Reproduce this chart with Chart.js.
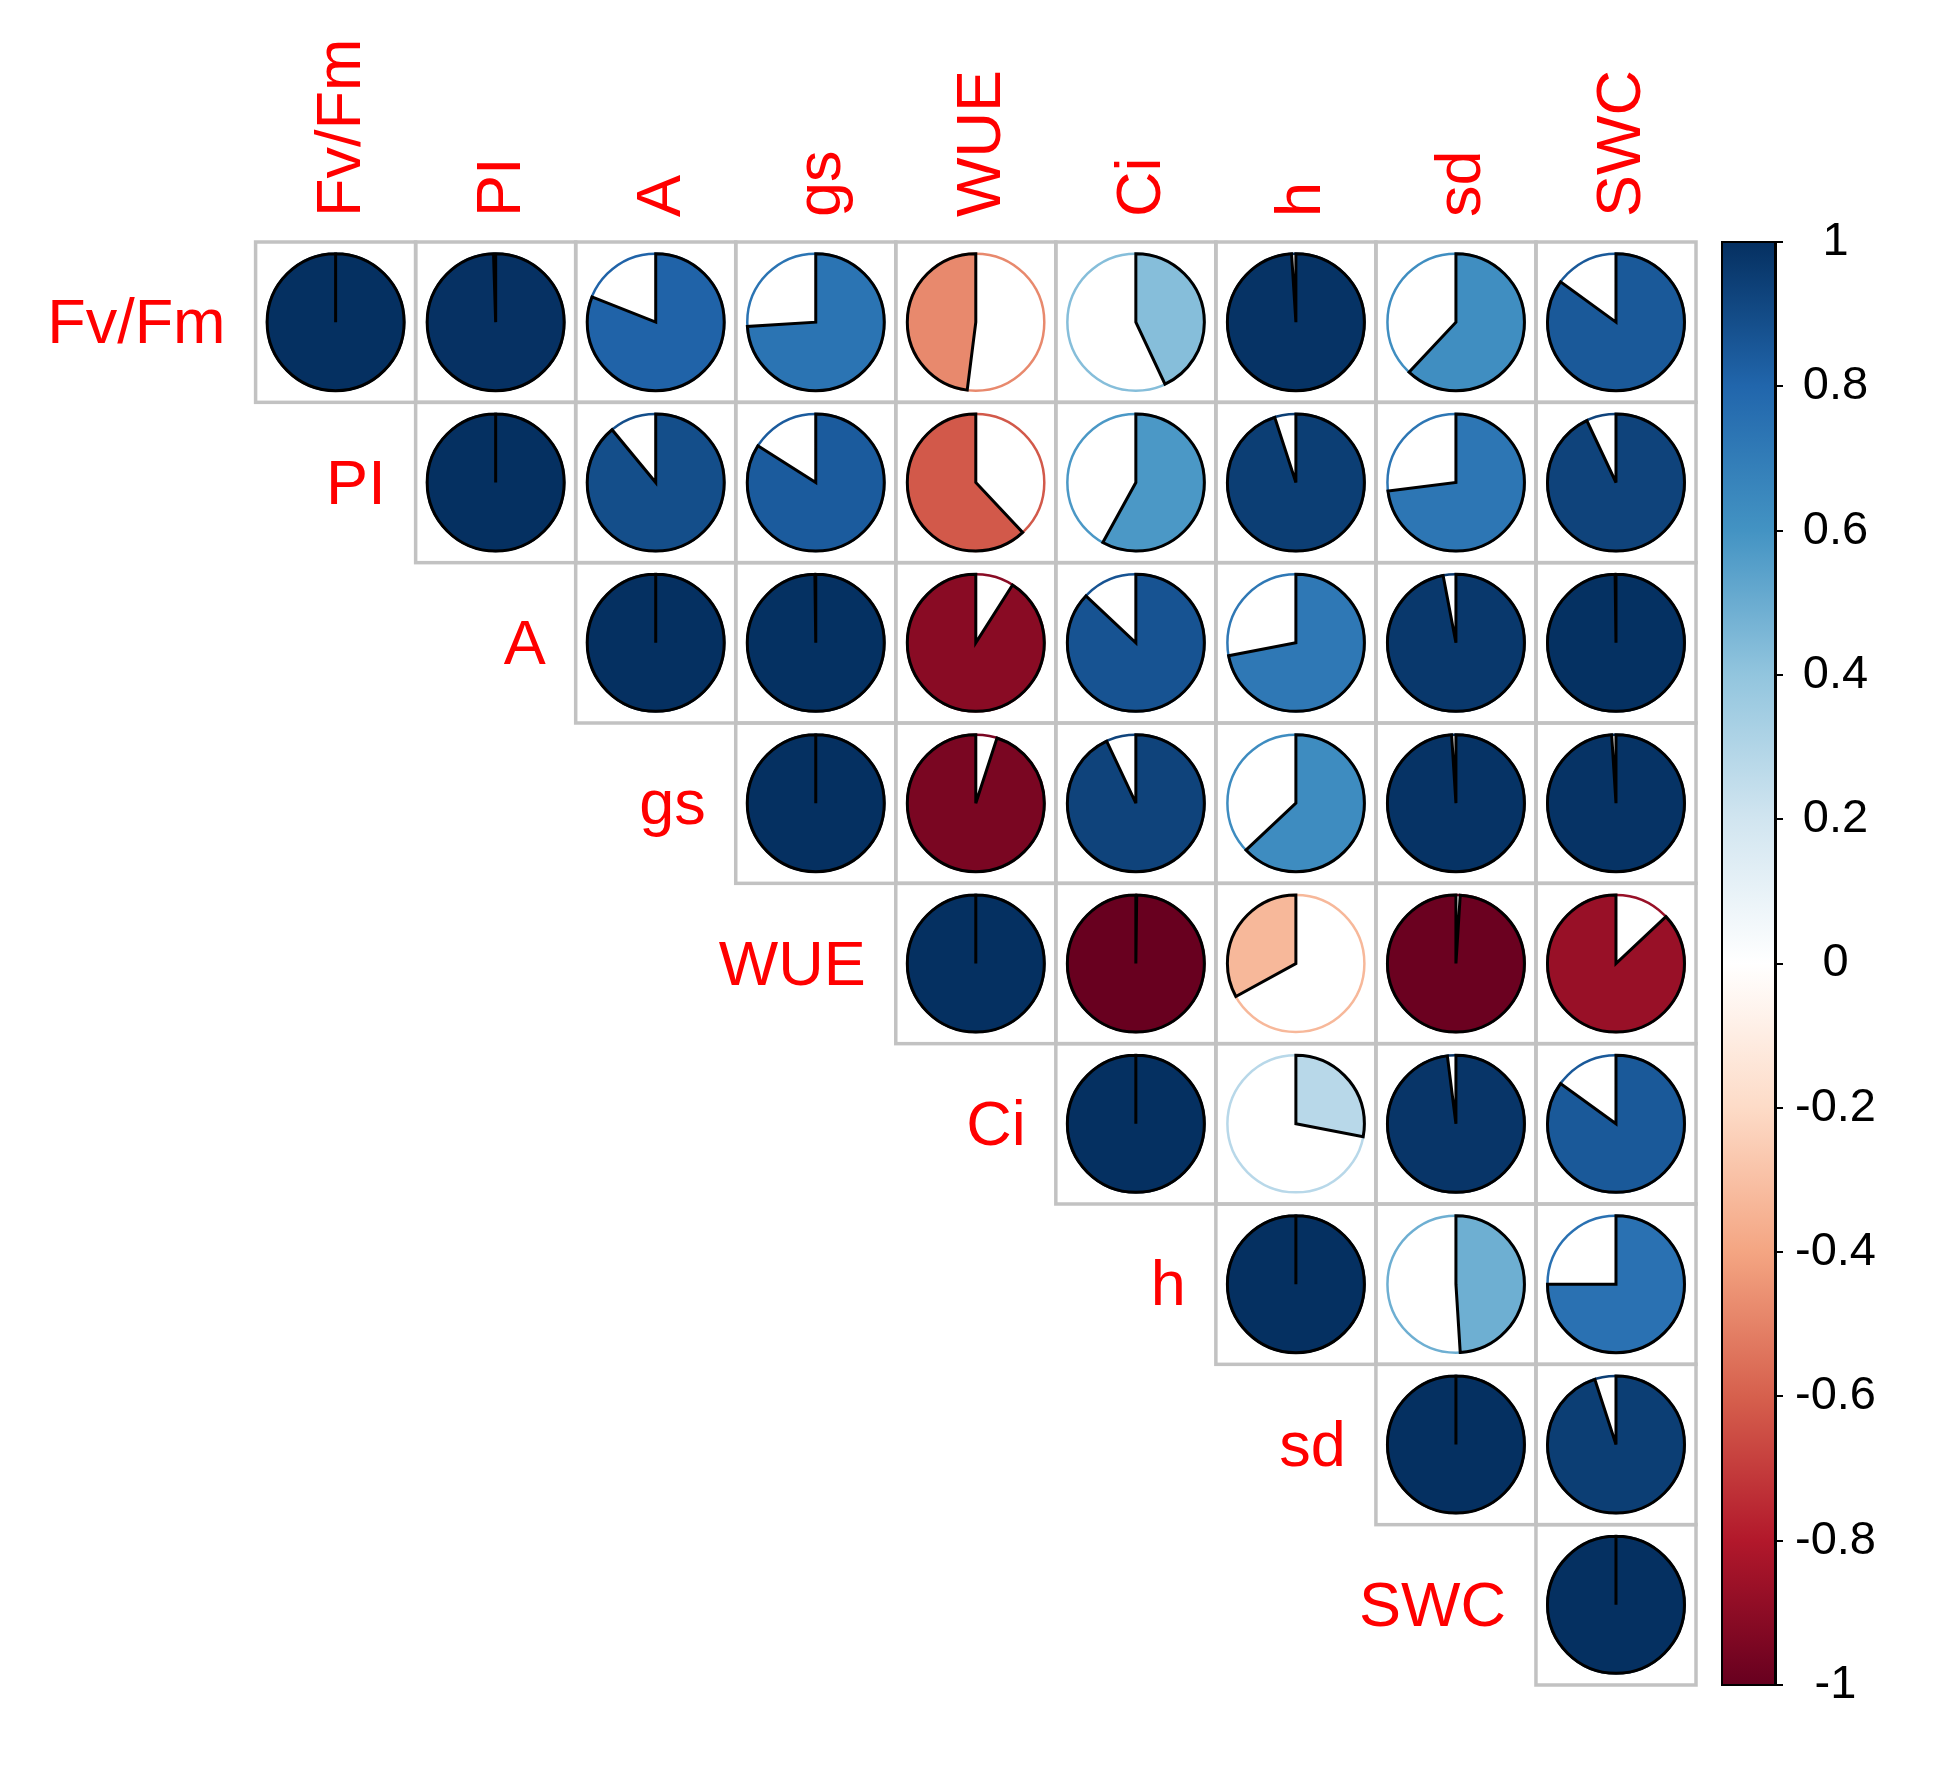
<!DOCTYPE html>
<html>
<head>
<meta charset="utf-8">
<script src="https://cdn.jsdelivr.net/npm/chart.js@4.4.1/dist/chart.umd.min.js"></script>
<style>
  html, body { margin: 0; padding: 0; background: #ffffff; }
  #wrap { width: 1936px; height: 1766px; position: relative; }
</style>
</head>
<body>
<div id="wrap"><canvas id="c" width="1936" height="1766"></canvas></div>
<script>
// ---------------- DATA ----------------
const variables = ['Fv/Fm', 'PI', 'A', 'gs', 'WUE', 'Ci', 'h', 'sd', 'SWC'];

// upper-triangle correlation rows (each starts at the diagonal)
const rowFvFm = [1.00, 0.995, 0.81, 0.74, -0.48, 0.43, 0.99, 0.62, 0.85];
const rowPI   = [1.00, 0.89, 0.84, -0.62, 0.58, 0.95, 0.73, 0.93];
const rowA    = [1.00, 0.998, -0.91, 0.87, 0.72, 0.97, 0.998];
const rowGs   = [1.00, -0.95, 0.93, 0.63, 0.99, 0.99];
const rowWUE  = [1.00, -0.998, -0.33, -0.99, -0.87];
const rowCi   = [1.00, 0.28, 0.98, 0.85];
const rowH    = [1.00, 0.49, 0.75];
const rowSd   = [1.00, 0.95];
const rowSWC  = [1.00];

const colorbarTickValues = [-1, -0.8, -0.6, -0.4, -0.2, 0, 0.2, 0.4, 0.6, 0.8, 1];
const colorbarTickLabels = ['-1', '-0.8', '-0.6', '-0.4', '-0.2', '0', '0.2', '0.4', '0.6', '0.8', '1'];

// RdBu palette (corrplot COL2) from -1 to 1
const paletteStops = ['#67001F', '#B2182B', '#D6604D', '#F4A582', '#FDDBC7', '#FFFFFF',
                      '#D1E5F0', '#92C5DE', '#4393C3', '#2166AC', '#053061'];

// ---------------- BUILD ----------------
const rows = [rowFvFm, rowPI, rowA, rowGs, rowWUE, rowCi, rowH, rowSd, rowSWC];
const cells = [];
rows.forEach((r, i) => r.forEach((v, k) => cells.push({ x: i + k, y: i, v: v })));

function hexToRgb(h) {
  const n = parseInt(h.slice(1), 16);
  return [(n >> 16) & 255, (n >> 8) & 255, n & 255];
}
const stopRgb = paletteStops.map(hexToRgb);
function colorFor(v) {
  const t = Math.max(0, Math.min(1, (v + 1) / 2)) * (stopRgb.length - 1);
  const i = Math.min(Math.floor(t), stopRgb.length - 2);
  const f = t - i;
  const a = stopRgb[i], b = stopRgb[i + 1];
  const c = a.map((q, k) => Math.round(q + (b[k] - q) * f));
  return `rgb(${c[0]},${c[1]},${c[2]})`;
}

const LABEL_FONT = '63px "Liberation Sans", Arial, sans-serif';
const GRID_COLOR = '#c2c2c2';

const corrPlugin = {
  id: 'corrPlugin',
  beforeDraw(chart) {
    const ctx = chart.ctx;
    const xs = chart.scales.x, ys = chart.scales.y, cb = chart.scales.cb;
    ctx.save();
    ctx.fillStyle = '#ffffff';
    ctx.fillRect(0, 0, chart.width, chart.height);
    // grid cells
    ctx.strokeStyle = GRID_COLOR;
    ctx.lineWidth = 3.5;
    cells.forEach(c => {
      const x0 = xs.getPixelForValue(c.x - 0.5), x1 = xs.getPixelForValue(c.x + 0.5);
      const y0 = ys.getPixelForValue(c.y - 0.5), y1 = ys.getPixelForValue(c.y + 0.5);
      ctx.strokeRect(x0, y0, x1 - x0, y1 - y0);
    });
    // colorbar
    const right = chart.chartArea.right;
    const left = right - 53;
    const yTop = cb.getPixelForValue(1), yBot = cb.getPixelForValue(-1);
    const g = ctx.createLinearGradient(0, yBot, 0, yTop);
    paletteStops.forEach((s, i) => g.addColorStop(i / (paletteStops.length - 1), s));
    ctx.fillStyle = g;
    ctx.fillRect(left, yTop, right - left, yBot - yTop);
    ctx.strokeStyle = '#000000';
    ctx.lineWidth = 2;
    ctx.strokeRect(left, yTop, right - left, yBot - yTop);
    ctx.restore();
  },
  afterDatasetsDraw(chart) {
    const ctx = chart.ctx;
    const xs = chart.scales.x, ys = chart.scales.y;
    const cellW = Math.abs(xs.getPixelForValue(1) - xs.getPixelForValue(0));
    const cellH = Math.abs(ys.getPixelForValue(1) - ys.getPixelForValue(0));
    const R = Math.min(cellW, cellH) * 0.428;
    const meta = chart.getDatasetMeta(0);
    ctx.save();
    meta.data.forEach((el, idx) => {
      const v = cells[idx].v;
      const cx = el.x, cy = el.y;
      const col = colorFor(v);
      ctx.beginPath();
      ctx.arc(cx, cy, R, 0, Math.PI * 2);
      ctx.fillStyle = '#ffffff';
      ctx.fill();
      ctx.lineWidth = 2.5;
      ctx.strokeStyle = col;
      ctx.stroke();
      const start = -Math.PI / 2;
      const sweep = Math.abs(v) * Math.PI * 2;
      ctx.beginPath();
      ctx.moveTo(cx, cy);
      if (v >= 0) ctx.arc(cx, cy, R, start, start + sweep, false);
      else ctx.arc(cx, cy, R, start, start - sweep, true);
      ctx.closePath();
      ctx.fillStyle = col;
      ctx.fill();
      ctx.strokeStyle = '#000000';
      ctx.lineWidth = 3;
      ctx.miterLimit = 4;
      ctx.stroke();
    });
    // labels
    ctx.fillStyle = '#ff0000';
    ctx.font = LABEL_FONT;
    ctx.textBaseline = 'alphabetic';
    const gridTop = ys.getPixelForValue(-0.5);
    variables.forEach((name, i) => {
      const cx = xs.getPixelForValue(i);
      ctx.save();
      ctx.translate(cx + 24, gridTop - 25);
      ctx.rotate(-Math.PI / 2);
      ctx.textAlign = 'left';
      ctx.fillText(name, 0, 0);
      ctx.restore();
      const rx = xs.getPixelForValue(i - 0.5) - 30;
      const ry = ys.getPixelForValue(i) + 21;
      ctx.textAlign = 'right';
      ctx.fillText(name, rx, ry);
    });
    ctx.restore();
  }
};

const gridLeft = 255.6, gridRight = 1696, barRight = 1775;
const xMax = -0.5 + 9 * (barRight - gridLeft) / (gridRight - gridLeft);

new Chart(document.getElementById('c'), {
  type: 'scatter',
  data: {
    datasets: [{
      data: cells.map(c => ({ x: c.x, y: c.y })),
      pointRadius: 0,
      pointHoverRadius: 0
    }]
  },
  options: {
    responsive: false,
    animation: false,
    devicePixelRatio: 1,
    events: [],
    layout: { padding: { left: gridLeft, top: 242, right: 31, bottom: 81 } },
    plugins: { legend: { display: false }, tooltip: { enabled: false } },
    scales: {
      x: { type: 'linear', min: -0.5, max: xMax, display: false },
      y: { type: 'linear', min: -0.5, max: 8.5, reverse: true, display: false },
      cb: {
        type: 'linear',
        position: 'right',
        min: -1, max: 1,
        afterFit: (s) => { s.width = 130; },
        afterBuildTicks: (s) => { s.ticks = colorbarTickValues.map(v => ({ value: v })); },
        ticks: {
          callback: (val, i) => colorbarTickLabels[i],
          color: '#000000',
          font: { family: '"Liberation Sans", Arial, sans-serif', size: 47 },
          padding: 12,
          crossAlign: 'center',
          autoSkip: false
        },
        grid: { drawOnChartArea: false, drawTicks: true, tickLength: 8, color: '#000000', lineWidth: 2 },
        border: { display: true, color: '#000000', width: 3 }
      }
    }
  },
  plugins: [corrPlugin]
});
</script>
</body>
</html>
